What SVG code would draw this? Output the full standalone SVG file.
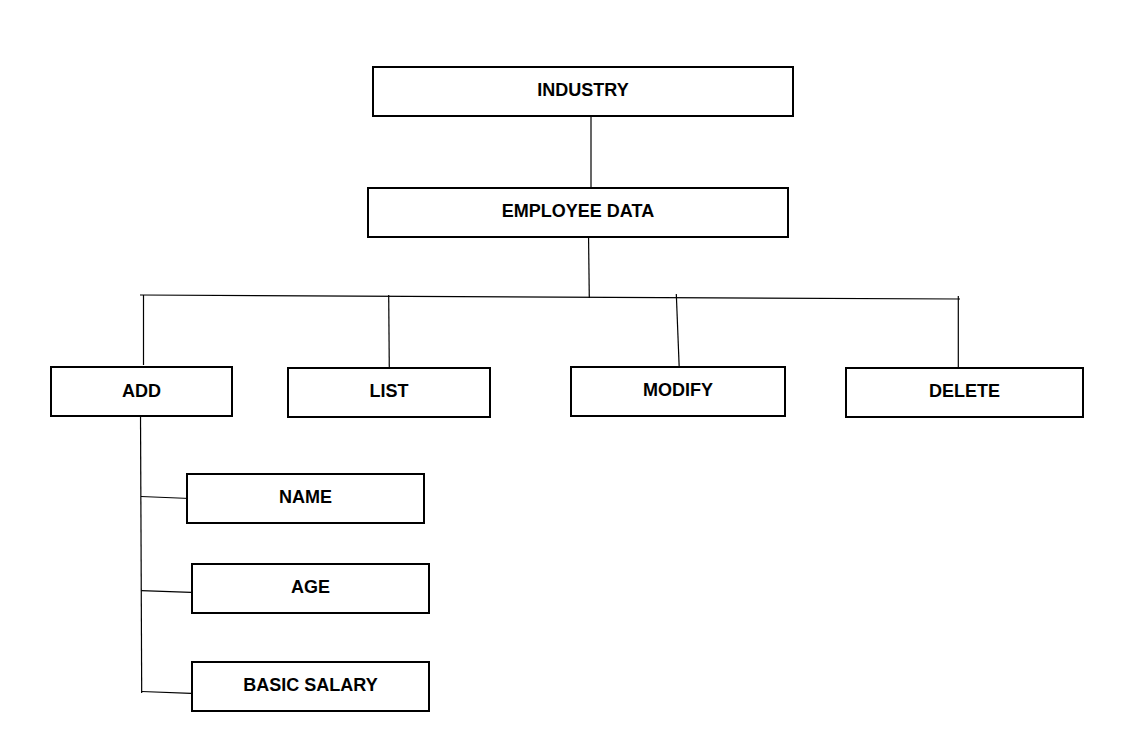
<svg xmlns="http://www.w3.org/2000/svg" width="1127" height="741" viewBox="0 0 1127 741">
<style>
.box{fill:#ffffff;stroke:#000000;stroke-width:2}
.lbl{font-family:"Liberation Sans",Arial,sans-serif;font-weight:bold;font-size:18px;fill:#000000;text-anchor:middle}
.con{stroke:#000000;stroke-width:1.2;fill:none}
</style>
<rect width="1127" height="741" fill="#ffffff"/>
<g id="connectors">
<line class="con" x1="591" y1="116" x2="591" y2="190"/>
<line class="con" x1="588.5" y1="233" x2="589.3" y2="298"/>
<line class="con" x1="140" y1="295" x2="960" y2="299"/>
<line class="con" x1="143.5" y1="295" x2="143.5" y2="365"/>
<line class="con" x1="388.7" y1="295" x2="389.3" y2="370"/>
<line class="con" x1="676.3" y1="294" x2="679.3" y2="370"/>
<line class="con" x1="958.3" y1="296" x2="958.3" y2="370"/>
<line class="con" x1="140.5" y1="413" x2="141.7" y2="693"/>
<line class="con" x1="141" y1="496.5" x2="190" y2="498.5"/>
<line class="con" x1="141.3" y1="590.7" x2="191" y2="592.3"/>
<line class="con" x1="141.7" y1="691.5" x2="191" y2="693.3"/>
</g>
<g id="industry">
<rect class="box" x="373" y="67" width="420" height="49"/>
<text class="lbl" x="583" y="96">INDUSTRY</text>
</g>
<g id="employee-data">
<rect class="box" x="368" y="188" width="420" height="49"/>
<text class="lbl" x="578" y="217">EMPLOYEE DATA</text>
</g>
<g id="add">
<rect class="box" x="51" y="367" width="181" height="49"/>
<text class="lbl" x="141.5" y="397">ADD</text>
</g>
<g id="list">
<rect class="box" x="288" y="368" width="202" height="49"/>
<text class="lbl" x="389" y="397">LIST</text>
</g>
<g id="modify">
<rect class="box" x="571" y="367" width="214" height="49"/>
<text class="lbl" x="678" y="396">MODIFY</text>
</g>
<g id="delete">
<rect class="box" x="846" y="368" width="237" height="49"/>
<text class="lbl" x="964.5" y="397">DELETE</text>
</g>
<g id="name">
<rect class="box" x="187" y="474" width="237" height="49"/>
<text class="lbl" x="305.5" y="503">NAME</text>
</g>
<g id="age">
<rect class="box" x="192" y="564" width="237" height="49"/>
<text class="lbl" x="310.5" y="593">AGE</text>
</g>
<g id="basic-salary">
<rect class="box" x="192" y="662" width="237" height="49"/>
<text class="lbl" x="310.5" y="691">BASIC SALARY</text>
</g>
</svg>
